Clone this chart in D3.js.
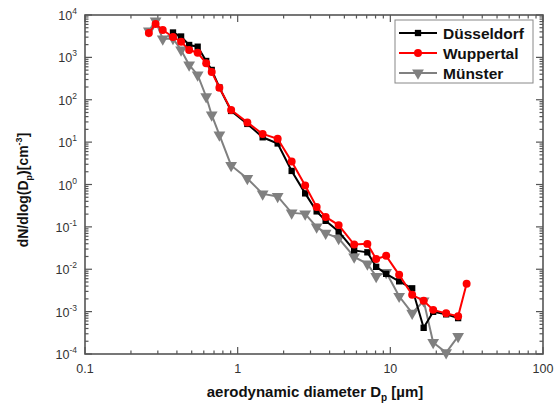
<html>
<head>
<script src="https://d3js.org/d3.v7.min.js"></script>
<style>
body { margin: 0; background: #fff; }
text { font-family: Arial, "Liberation Sans", sans-serif; }
</style>
</head>
<body>
<div id="plot"></div>
<script>
var width = 557, height = 405;
var plotLeft = 85, plotRight = 543, plotTop = 15, plotBottom = 354;

// diameters in um, shared by all series
var diam = [0.262, 0.290, 0.323, 0.377, 0.426, 0.481, 0.547, 0.622, 0.676, 0.759,
  0.906, 1.157, 1.458, 1.828, 2.258, 2.768, 3.291, 3.770, 4.586, 5.795,
  7.073, 8.077, 9.39, 11.42, 13.9, 16.53, 19.08, 23.2, 27.8, 31.6];

var duesseldorf = [null, null, null, 3865, 3110, 1960, 1787, 822, 505, 195,
  54.4, 26.9, 13.0, 9.3, 2.09, 0.617, 0.232, 0.139, 0.0775, 0.0279,
  0.0251, 0.0114, 0.0078, 0.00519, 0.00355, 0.000415, 0.00099, 0.000863, 0.000703, null];

var wuppertal = [3760, 6130, 4430, 3030, 2345, 1495, 1290, 726, 453, 193,
  57.5, 29.2, 15.6, 12.0, 3.47, 0.95, 0.296, 0.172, 0.110, 0.0383,
  0.0397, 0.0174, 0.0207, 0.00738, 0.00249, 0.0018, 0.0011, 0.00091, 0.000775, 0.00453];

var muenster = [4195, 7220, 2716, 2790, 1495, 663, 385, 118, 43.8, 14.8,
  2.82, 1.39, 0.60, 0.524, 0.214, 0.203, 0.100, 0.071, 0.0536, 0.0196,
  0.0134, 0.0068, 0.00845, 0.0023, 0.00092, 0.0018, 0.000187, 0.000108, 0.000261, null];

var xTicks = [0.1, 1, 10, 100];
var xTickLabels = ["0.1", "1", "10", "100"];
var yTicks = [1e-4, 1e-3, 1e-2, 1e-1, 1e0, 1e1, 1e2, 1e3, 1e4];
var yExponents = ["-4", "-3", "-2", "-1", "0", "1", "2", "3", "4"];

var seriesNames = ["Düsseldorf", "Wuppertal", "Münster"];
var seriesColors = ["#000000", "#ff0000", "#808080"];
var seriesShapes = ["square", "circle", "triangle"];
var seriesValues = [duesseldorf, wuppertal, muenster];

var svg = d3.select("#plot").append("svg")
  .attr("width", width).attr("height", height);

var xScale = d3.scaleLog().domain([0.1, 100]).range([plotLeft, plotRight]);
var yScale = d3.scaleLog().domain([1e-4, 1e4]).range([plotBottom, plotTop]);

var axisColor = "#555";

// minor ticks 2..9 of each decade
function minorTicks(lo, hi) {
  var out = [];
  for (var d = lo; d < hi * 0.999; d *= 10) {
    for (var k = 2; k <= 9; k++) out.push(d * k);
  }
  return out;
}
var xMinor = minorTicks(0.1, 100);
var yMinor = minorTicks(1e-4, 1e4);

var tickG = svg.append("g").attr("stroke", axisColor).attr("stroke-width", 1.2);

function xTickLines(values, len) {
  values.forEach(function (v) {
    var x = xScale(v);
    tickG.append("line").attr("x1", x).attr("x2", x).attr("y1", plotBottom).attr("y2", plotBottom - len);
    tickG.append("line").attr("x1", x).attr("x2", x).attr("y1", plotTop).attr("y2", plotTop + len);
  });
}
function yTickLines(values, len) {
  values.forEach(function (v) {
    var y = yScale(v);
    tickG.append("line").attr("x1", plotLeft).attr("x2", plotLeft + len).attr("y1", y).attr("y2", y);
    tickG.append("line").attr("x1", plotRight).attr("x2", plotRight - len).attr("y1", y).attr("y2", y);
  });
}
xTickLines(xTicks, 7);
xTickLines(xMinor, 3.5);
yTickLines(yTicks, 7);
yTickLines(yMinor, 3.5);

svg.append("rect")
  .attr("x", plotLeft).attr("y", plotTop)
  .attr("width", plotRight - plotLeft).attr("height", plotBottom - plotTop)
  .attr("fill", "none").attr("stroke", axisColor).attr("stroke-width", 1.6);

// tick labels
svg.append("g").selectAll("text").data(xTicks).enter().append("text")
  .attr("x", function (d) { return xScale(d); })
  .attr("y", plotBottom + 19)
  .attr("text-anchor", "middle")
  .attr("font-size", 12.5)
  .attr("fill", "#333")
  .text(function (d, i) { return xTickLabels[i]; });

var yLab = svg.append("g").selectAll("text").data(yTicks).enter().append("text")
  .attr("x", plotLeft - 8)
  .attr("y", function (d) { return yScale(d) + 5; })
  .attr("text-anchor", "end")
  .attr("font-size", 12.5)
  .attr("fill", "#333");
yLab.append("tspan").text("10");
yLab.append("tspan").attr("dy", -6).attr("font-size", 8.5)
  .text(function (d, i) { return yExponents[i]; });

// axis titles
var xt = svg.append("text")
  .attr("x", 315).attr("y", 397)
  .attr("text-anchor", "middle")
  .attr("font-size", 15).attr("font-weight", "bold").attr("fill", "#111");
xt.append("tspan").text("aerodynamic diameter D");
xt.append("tspan").attr("dy", 4).attr("font-size", 10).text("p");
xt.append("tspan").attr("dy", -4).text(" [µm]");

var yt = svg.append("text")
  .attr("transform", "translate(28," + 190 + ") rotate(-90)")
  .attr("text-anchor", "middle")
  .attr("font-size", 14).attr("font-weight", "bold").attr("fill", "#111");
yt.append("tspan").text("dN/dlog(D");
yt.append("tspan").attr("dy", 4).attr("font-size", 9).text("p");
yt.append("tspan").attr("dy", -4).text(")[cm");
yt.append("tspan").attr("dy", -6).attr("font-size", 9).text("-3");
yt.append("tspan").attr("dy", 6).text("]");

function symbolFor(shape) {
  if (shape === "square") return d3.symbol().type(d3.symbolSquare).size(40);
  if (shape === "circle") return d3.symbol().type(d3.symbolCircle).size(50);
  return d3.symbol().type(d3.symbolTriangle).size(60);
}

// draw order: grey, black, red
[2, 0, 1].forEach(function (s) {
  var pts = [];
  seriesValues[s].forEach(function (v, i) {
    if (v !== null) pts.push([diam[i], v]);
  });
  var line = d3.line()
    .x(function (d) { return xScale(d[0]); })
    .y(function (d) { return yScale(d[1]); });
  var g = svg.append("g");
  g.append("path").datum(pts)
    .attr("d", line)
    .attr("fill", "none")
    .attr("stroke", seriesColors[s])
    .attr("stroke-width", 2);
  g.selectAll("path.m").data(pts).enter().append("path")
    .attr("class", "m")
    .attr("transform", function (d) {
      var rot = seriesShapes[s] === "triangle" ? " rotate(180)" : "";
      return "translate(" + xScale(d[0]) + "," + yScale(d[1]) + ")" + rot;
    })
    .attr("d", symbolFor(seriesShapes[s]))
    .attr("fill", seriesColors[s]);
});

// legend
var lg = svg.append("g");
lg.append("rect")
  .attr("x", 395).attr("y", 20).attr("width", 138).attr("height", 63)
  .attr("fill", "#fff").attr("stroke", "#888").attr("stroke-width", 1);
seriesNames.forEach(function (name, i) {
  var y = 33 + i * 20;
  lg.append("line").attr("x1", 399).attr("x2", 437).attr("y1", y).attr("y2", y)
    .attr("stroke", seriesColors[i]).attr("stroke-width", 2);
  var rot = seriesShapes[i] === "triangle" ? " rotate(180)" : "";
  lg.append("path")
    .attr("transform", "translate(418," + y + ")" + rot)
    .attr("d", symbolFor(seriesShapes[i]))
    .attr("fill", seriesColors[i]);
  lg.append("text")
    .attr("x", 443).attr("y", y + 5.5)
    .attr("font-size", 15.5).attr("font-weight", "bold").attr("fill", "#111")
    .text(name);
});
</script>
</body>
</html>
